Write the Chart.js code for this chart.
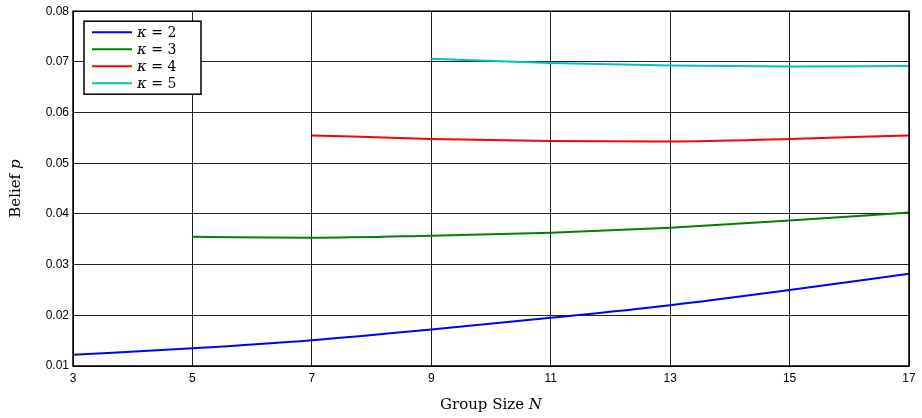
<!DOCTYPE html>
<html>
<head>
<meta charset="utf-8">
<script src="https://cdn.jsdelivr.net/npm/chart.js@4.4.1/dist/chart.umd.min.js"></script>
<style>
  html, body { margin: 0; padding: 0; background: #fff; }
  #wrap { width: 922px; height: 418px; position: relative; }
</style>
</head>
<body>
<div id="wrap"><canvas id="belief_chart"></canvas></div>
<script>
// group sizes (odd N) and belief values
var groupSizes = [3, 5, 7, 9, 11, 13, 15, 17];
var kappa2 = [0.0122, 0.0135, 0.0151, 0.0172, 0.0195, 0.0220, 0.0250, 0.0282];
var kappa3 = [null, 0.0355, 0.0353, 0.0357, 0.0363, 0.0373, 0.0387, 0.0403];
var kappa4 = [null, null, 0.0555, 0.0548, 0.0544, 0.0543, 0.0548, 0.0555];
var kappa5 = [null, null, null, 0.0706, 0.0698, 0.0693, 0.0691, 0.0692];
var kappaLabels = ['2', '3', '4', '5'];
var seriesColors = ['#0000ff', '#008000', '#ff0000', '#00bfbf'];

function toPoints(vals) {
    var pts = [];
    for (var i = 0; i < groupSizes.length; i++) {
        if (vals[i] !== null) pts.push({ x: groupSizes[i], y: vals[i] });
    }
    return pts;
}

var allSeries = [kappa2, kappa3, kappa4, kappa5];
var datasets = allSeries.map(function(vals, i) {
    return {
        label: kappaLabels[i],
        data: toPoints(vals),
        borderColor: seriesColors[i],
        backgroundColor: seriesColors[i],
        borderWidth: 2,
        pointRadius: 0,
        cubicInterpolationMode: 'monotone',
        fill: false
    };
});

var serif = '"DejaVu Serif", "Liberation Serif", serif';

// draws the boxed legend, the frame and the axis titles (mixed italic text)
var matlabLook = {
    id: 'matlabLook',
    afterDraw: function(chart) {
        var ctx = chart.ctx;
        var a = chart.chartArea;
        ctx.save();

        // frame
        ctx.strokeStyle = '#000';
        ctx.lineWidth = 1.5;
        ctx.strokeRect(a.left, a.top, a.right - a.left, a.bottom - a.top);

        // legend box
        var lx = a.left + 11, ly = a.top + 10, lw = 117, lh = 73;
        ctx.fillStyle = '#fff';
        ctx.fillRect(lx, ly, lw, lh);
        ctx.lineWidth = 1.5;
        ctx.strokeRect(lx, ly, lw, lh);
        chart.data.datasets.forEach(function(ds, i) {
            var yy = ly + 11 + i * 17;
            ctx.strokeStyle = ds.borderColor;
            ctx.lineWidth = 2;
            ctx.beginPath();
            ctx.moveTo(lx + 8, yy);
            ctx.lineTo(lx + 48, yy);
            ctx.stroke();
            ctx.fillStyle = '#000';
            ctx.textBaseline = 'middle';
            ctx.textAlign = 'left';
            ctx.font = 'italic 15px ' + serif;
            ctx.fillText('\u03ba', lx + 53, yy + 1);
            var kw = ctx.measureText('\u03ba').width;
            ctx.font = '14px ' + serif;
            ctx.fillText(' = ' + ds.label, lx + 53 + kw, yy + 1);
        });

        // x axis title
        ctx.fillStyle = '#000';
        ctx.textBaseline = 'middle';
        ctx.font = '15px ' + serif;
        var t1 = 'Group Size ';
        ctx.font = '15px ' + serif;
        var w1 = ctx.measureText(t1).width;
        ctx.font = 'italic 15px ' + serif;
        var w2 = ctx.measureText('N').width;
        var cx = (a.left + a.right) / 2 - (w1 + w2) / 2;
        ctx.textAlign = 'left';
        ctx.font = '15px ' + serif;
        ctx.fillText(t1, cx, 405);
        ctx.font = 'italic 15px ' + serif;
        ctx.fillText('N', cx + w1, 405);

        // y axis title
        ctx.translate(16, (a.top + a.bottom) / 2);
        ctx.rotate(-Math.PI / 2);
        ctx.font = '15px ' + serif;
        var y1 = 'Belief ';
        var yw1 = ctx.measureText(y1).width;
        ctx.font = 'italic 15px ' + serif;
        var yw2 = ctx.measureText('p').width;
        var sx = -(yw1 + yw2) / 2;
        ctx.font = '15px ' + serif;
        ctx.fillText(y1, sx, 0);
        ctx.font = 'italic 15px ' + serif;
        ctx.fillText('p', sx + yw1, 0);

        ctx.restore();
    }
};

var ctx = document.getElementById('belief_chart').getContext('2d');
var beliefChart = new Chart(ctx, {
    type: 'line',
    data: { datasets: datasets },
    plugins: [matlabLook],
    options: {
        responsive: true,
        maintainAspectRatio: false,
        animation: false,
        layout: { padding: { top: 11, right: 13, left: 0, bottom: 0 } },
        plugins: {
            legend: { display: false },
            tooltip: { enabled: false }
        },
        scales: {
            x: {
                type: 'linear',
                min: 3,
                max: 17,
                afterFit: function(s) { s.height = 52; },
                afterBuildTicks: function(s) {
                    s.ticks = groupSizes.map(function(v) { return { value: v }; });
                },
                grid: { color: '#222', lineWidth: 1, drawTicks: false },
                border: { display: false },
                ticks: {
                    color: '#000',
                    padding: 5,
                    maxRotation: 0,
                    font: { family: '"Liberation Sans", Arial, sans-serif', size: 12 }
                }
            },
            y: {
                min: 0.01,
                max: 0.08,
                afterFit: function(s) { s.width = 73; },
                grid: { color: '#222', lineWidth: 1, drawTicks: false },
                border: { display: false },
                ticks: {
                    stepSize: 0.01,
                    color: '#000',
                    padding: 4,
                    font: { family: '"Liberation Sans", Arial, sans-serif', size: 12 },
                    callback: function(v) { return v.toFixed(2); }
                }
            }
        }
    }
});
</script>
</body>
</html>
